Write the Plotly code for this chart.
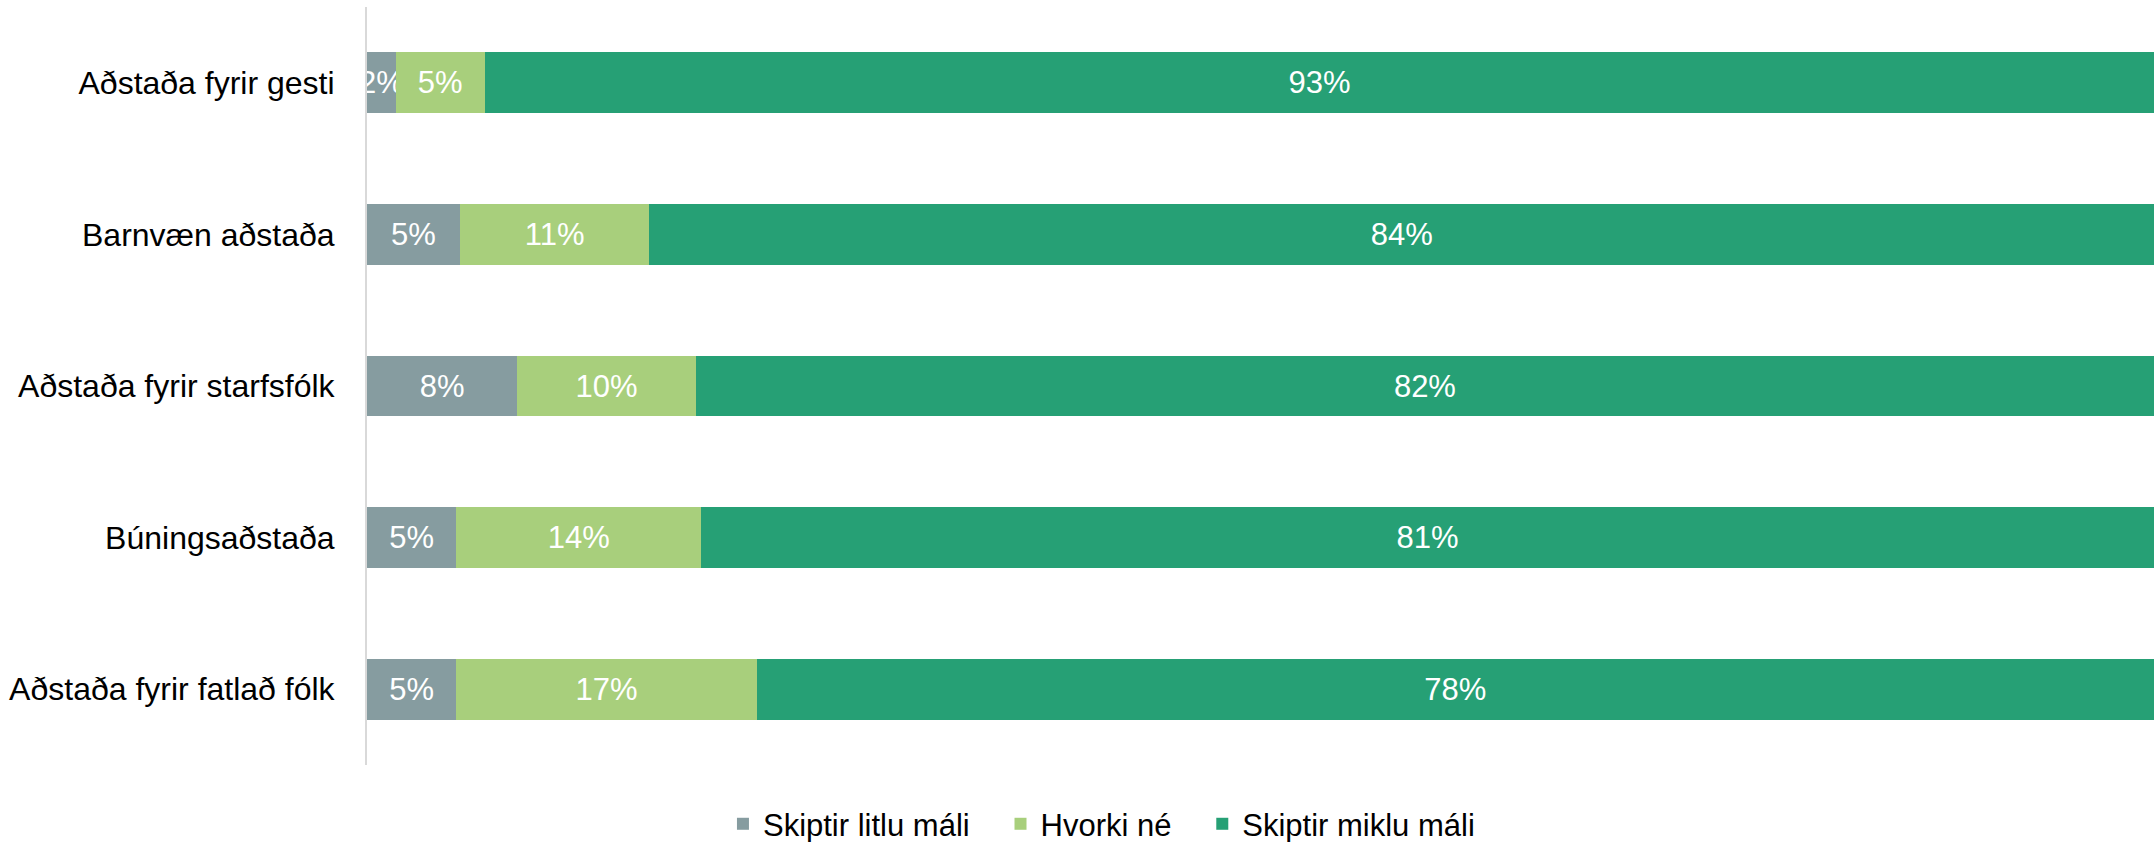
import plotly.graph_objects as go

# flokkar og gildi (%)
categories = ["Aðstaða fyrir gesti", "Barnvæn aðstaða", "Aðstaða fyrir starfsfólk",
              "Búningsaðstaða", "Aðstaða fyrir fatlað fólk"]
litlu = [1.6, 5.2, 8.4, 5.0, 5.0]
hvorki = [5.0, 10.6, 10.0, 13.7, 16.8]
miklu = [93.4, 84.2, 81.6, 81.3, 78.2]

series = [
    ("Skiptir litlu máli", litlu, "#869ca0"),
    ("Hvorki né", hvorki, "#a8cf7c"),
    ("Skiptir miklu máli", miklu, "#26a075"),
]

FONT = "Liberation Sans"
FS = 31
PAD = "\u00a0" * 3  # bil milli liða í skýringu

fig = go.Figure()
for i, (name, vals, col) in enumerate(series):
    fig.add_trace(go.Bar(
        y=categories, x=vals, name=name + (PAD if i < len(series) - 1 else ""),
        orientation="h",
        marker=dict(color=col, line=dict(width=0)),
        text=[f"{v:.0f}%" for v in vals],
        textposition="inside", insidetextanchor="middle", textangle=0,
        constraintext="none", cliponaxis=False,
        textfont=dict(color="white", size=FS, family=FONT),
        hoverinfo="skip",
    ))

fig.update_layout(
    barmode="stack", bargap=0.6,
    width=2154, height=842,
    margin=dict(l=367, r=0, t=7, b=77, autoexpand=False),
    paper_bgcolor="white", plot_bgcolor="white",
    font=dict(family=FONT, size=FS, color="black"),
    showlegend=True,
    legend=dict(orientation="h", x=0.411, xanchor="center", y=-0.078, yanchor="middle",
                font=dict(size=FS, family=FONT), traceorder="normal"),
)
fig.update_xaxes(range=[0, 100], visible=False, showgrid=False, automargin=False)
fig.update_yaxes(autorange="reversed", showline=True, linecolor="#d9d9d9", linewidth=2,
                 showgrid=False, ticks="", ticklabelstandoff=24, automargin=False,
                 tickfont=dict(size=32, family=FONT, color="black"))

fig.write_html("out.html", config={"displayModeBar": False},
               post_script="document.body.style.margin='0';")
